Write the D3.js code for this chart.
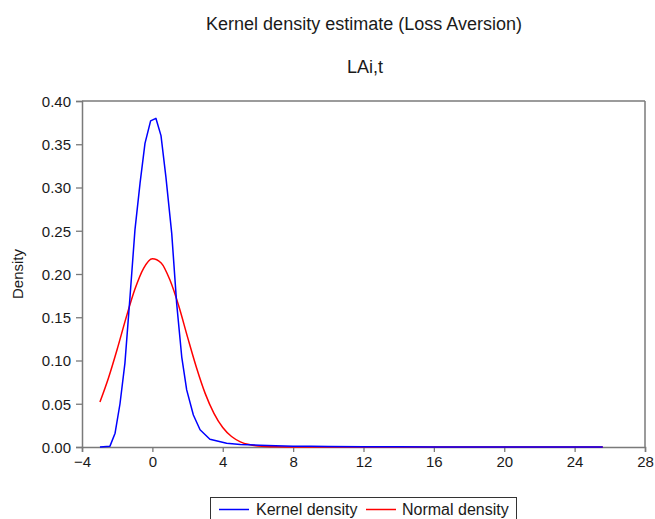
<!DOCTYPE html>
<html><head><meta charset="utf-8">
<script src="https://cdn.jsdelivr.net/npm/d3@7"></script>
<style>body{margin:0;background:#fff}svg{display:block;font-family:"Liberation Sans",Arial,sans-serif}</style>
</head><body><svg id="c" width="655" height="519"></svg>
<script>
const title = "Kernel density estimate (Loss Aversion)";
const subtitle = "LAi,t";
const yLabel = "Density";
const xTicks = [-4, 0, 4, 8, 12, 16, 20, 24, 28];
const yTicks = [0, 0.05, 0.10, 0.15, 0.20, 0.25, 0.30, 0.35, 0.40];
const seriesNames = ["Kernel density", "Normal density"];
const seriesColors = ["#0000ff", "#ff0000"];

const kernelX = [-2.98, -2.41, -2.12, -1.84, -1.56, -1.27, -0.99, -0.70, -0.42, -0.10, 0.20, 0.49, 0.77, 1.10, 1.38, 1.67, 1.95, 2.33, 2.71, 3.27, 4.22, 5.0, 6.1, 7.0, 8.0, 9.0, 10.0, 12.0, 14.0, 16.0, 20.0, 25.6];
const kernelY = [0.000, 0.001, 0.016, 0.050, 0.097, 0.174, 0.251, 0.305, 0.351, 0.377, 0.380, 0.360, 0.312, 0.247, 0.166, 0.104, 0.066, 0.037, 0.020, 0.009, 0.0043, 0.003, 0.002, 0.0015, 0.001, 0.0008, 0.0006, 0.0003, 0.0002, 0.0001, 0.0001, 0.0];

const normalX = [-2.98, -2.5, -2.0, -1.5, -1.0, -0.5, 0.0, 0.5, 1.0, 1.5, 2.0, 2.5, 3.0, 3.5, 4.0, 4.5, 5.0, 5.5, 6.0, 7.0, 8.0, 10.0, 25.6];
const normalY = [0.052, 0.0795, 0.113, 0.149, 0.182, 0.2066, 0.2177, 0.2128, 0.193, 0.163, 0.127, 0.0922, 0.062, 0.0389, 0.0225, 0.0121, 0.0060, 0.0028, 0.0012, 0.0002, 0.00003, 0.0, 0.0];

const svg = d3.select("#c");
const L = 82, R = 645, T = 101, B = 447;
const x = d3.scaleLinear().domain([-4, 28]).range([L, R]);
const y = d3.scaleLinear().domain([0, 0.40]).range([B, T]);
const axisColor = "#7a7a7a";
const textColor = "#1a1a1a";

svg.append("text").attr("x", 364).attr("y", 30).attr("text-anchor", "middle")
  .attr("font-size", 18).attr("fill", textColor).text(title);
svg.append("text").attr("x", 365).attr("y", 73).attr("text-anchor", "middle")
  .attr("font-size", 18).attr("fill", textColor).text(subtitle);

// axes
const fmtX = d => d < 0 ? "\u2212" + Math.abs(d) : String(d);
const gx = svg.append("g").attr("transform", `translate(0,${B})`)
  .call(d3.axisBottom(x).tickValues(xTicks).tickFormat(fmtX).tickSize(5).tickPadding(4));
const gy = svg.append("g").attr("transform", `translate(${L},0)`)
  .call(d3.axisLeft(y).tickValues(yTicks).tickFormat(d3.format(".2f")).tickSize(6).tickPadding(5));
[gx, gy].forEach(g => {
  g.select(".domain").attr("stroke", axisColor).attr("stroke-width", 1.5);
  g.selectAll(".tick line").attr("stroke", axisColor).attr("stroke-width", 1.3);
  g.selectAll(".tick text").attr("font-size", 15).attr("fill", textColor)
    .attr("font-family", '"Liberation Sans",Arial,sans-serif');
});
gy.selectAll(".tick text").attr("dy", "0.36em");
// top and right frame
svg.append("line").attr("x1", L).attr("x2", R).attr("y1", T).attr("y2", T).attr("stroke", axisColor).attr("stroke-width", 1.5);
svg.append("line").attr("x1", R).attr("x2", R).attr("y1", T).attr("y2", B).attr("stroke", axisColor).attr("stroke-width", 1.5);

svg.append("text").attr("transform", `translate(23,${(T + B) / 2}) rotate(-90)`)
  .attr("text-anchor", "middle").attr("font-size", 15).attr("fill", textColor).text(yLabel);

const kLine = d3.line().x(d => x(d[0])).y(d => y(d[1]));
const nLine = d3.line().x(d => x(d[0])).y(d => y(d[1])).curve(d3.curveMonotoneX);
const series = [d3.zip(kernelX, kernelY), d3.zip(normalX, normalY)];
svg.append("path").datum(series[1]).attr("d", nLine).attr("fill", "none")
  .attr("stroke", seriesColors[1]).attr("stroke-width", 1.5);
svg.append("path").datum(series[0]).attr("d", kLine).attr("fill", "none")
  .attr("stroke", seriesColors[0]).attr("stroke-width", 1.5).attr("stroke-linejoin", "round");

// legend
const lg = svg.append("g");
lg.append("rect").attr("x", 210.5).attr("y", 497.5).attr("width", 306).attr("height", 30)
  .attr("fill", "#fff").attr("stroke", "#333").attr("stroke-width", 1);
const legItems = [{x1: 219, x2: 249, tx: 256}, {x1: 366, x2: 396, tx: 402}];
legItems.forEach((it, i) => {
  lg.append("line").attr("x1", it.x1).attr("x2", it.x2).attr("y1", 509.5).attr("y2", 509.5)
    .attr("stroke", seriesColors[i]).attr("stroke-width", 1.5);
  lg.append("text").attr("x", it.tx).attr("y", 515).attr("font-size", 16).attr("fill", textColor).text(seriesNames[i]);
});
</script></body></html>
